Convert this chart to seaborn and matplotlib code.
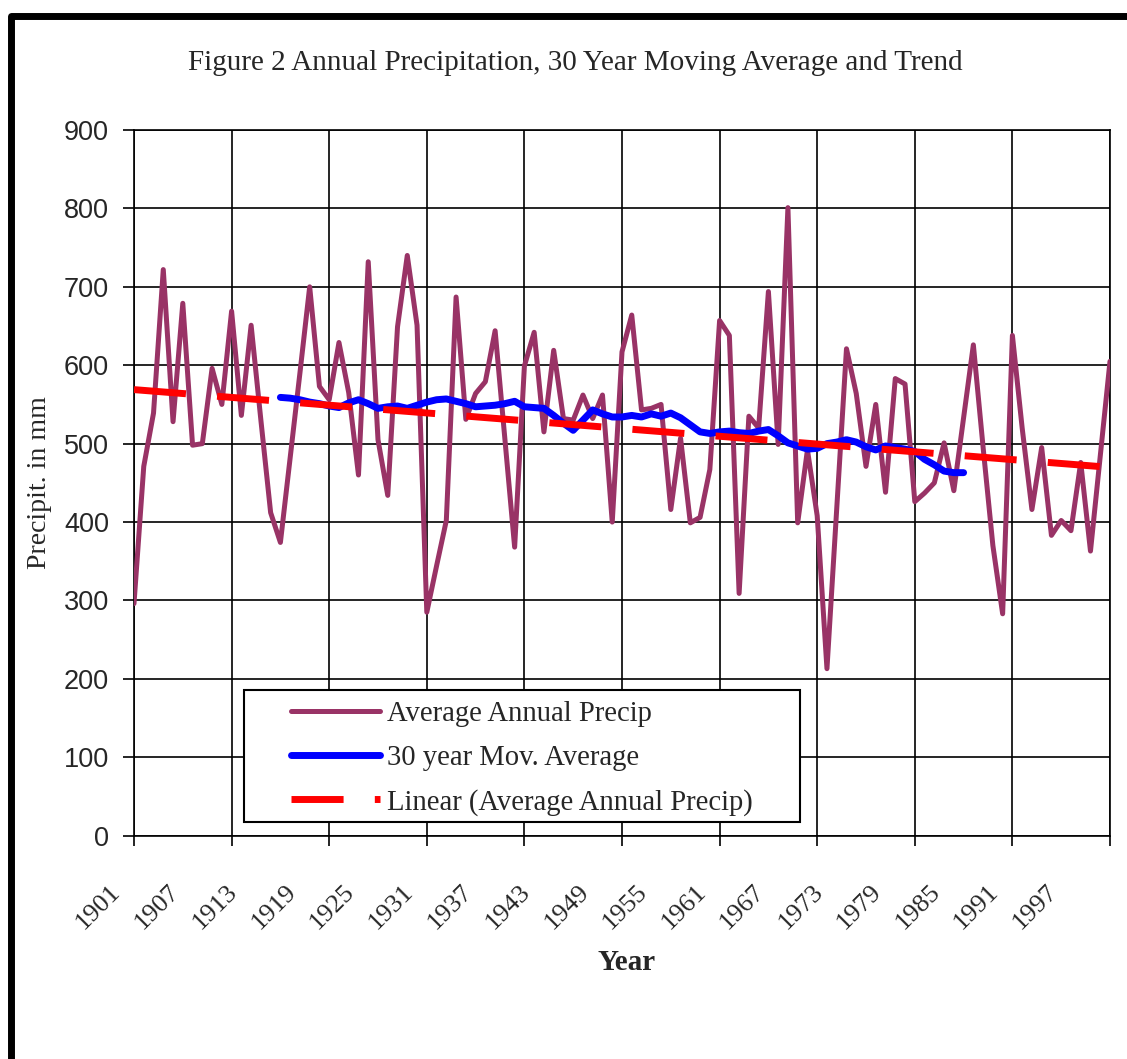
import numpy as np
import pandas as pd

import matplotlib
matplotlib.use("Agg")
import matplotlib.pyplot as plt
import seaborn as sns
from matplotlib.patches import Rectangle
from matplotlib.ticker import FixedLocator, FixedFormatter, NullFormatter
from matplotlib.transforms import ScaledTranslation

# ---- data ------------------------------------------------------------------
YEARS = list(range(1901, 2002))
PRECIP = [
    296, 471, 539, 722, 528, 679, 498, 500, 596, 550,   # 1901-1910
    669, 536, 651, 530, 412, 374, 482, 590, 700, 573,   # 1911-1920
    556, 629, 565, 460, 732, 505, 434, 649, 740, 651,   # 1921-1930
    285, 344, 402, 687, 531, 564, 579, 644, 506, 368,   # 1931-1940
    599, 642, 515, 619, 532, 530, 562, 532, 562, 400,   # 1941-1950
    617, 664, 543, 545, 550, 416, 507, 399, 406, 467,   # 1951-1960
    657, 638, 309, 535, 520, 694, 499, 801, 399, 492,   # 1961-1970
    408, 213, 417, 621, 564, 471, 550, 438, 583, 576,   # 1971-1980
    426, 437, 450, 501, 440, 533, 626, 495, 370, 283,   # 1981-1990
    638, 520, 416, 495, 383, 402, 389, 476, 363, 484,   # 1991-2000
    605,                                                # 2001
]

MA_YEARS = list(range(1916, 1987))
MA_VALUES = [
    559, 558, 556, 553, 551, 548, 546, 552, 556, 551,   # 1916-1925
    545, 547, 548, 545, 549, 553, 556, 557, 554, 551,   # 1926-1935
    547, 548, 549, 551, 554, 547, 546, 545, 536, 526,   # 1936-1945
    517, 530, 543, 538, 534, 534, 536, 534, 538, 535,   # 1946-1955
    539, 533, 524, 515, 513, 515, 516, 514, 513, 516,   # 1956-1965
    518, 510, 501, 497, 493, 494, 500, 502, 505, 502,   # 1966-1975
    496, 492, 497, 495, 493, 490, 480, 473, 465, 463,   # 1976-1985
    463,                                                # 1986
]

GRID_YEARS = list(range(1901, 2002, 10))
LABEL_YEARS = list(range(1901, 2001, 6))
Y_TICKS = list(range(0, 901, 100))

TITLE = "Figure 2 Annual Precipitation, 30 Year Moving Average and Trend"

# ---- figure -----------------------------------------------------------------
sns.set_style("white")
plt.rcParams["font.family"] = ["Liberation Serif", "DejaVu Serif"]

W, H = 1127, 1059
fig = plt.figure(figsize=(W / 100, H / 100), dpi=100)
ax = fig.add_axes([134 / W, 1 - 835.7 / H, 976 / W, 705.7 / H])

df = pd.DataFrame({"year": YEARS, "precip": PRECIP})
ma = pd.DataFrame({"year": MA_YEARS, "ma": MA_VALUES})

sns.lineplot(data=df, x="year", y="precip", ax=ax, color="#993366", lw=3.6,
             label="Average Annual Precip", zorder=3)
sns.lineplot(data=ma, x="year", y="ma", ax=ax, color="#0000ff", lw=5,
             label="30 year Mov. Average", zorder=4, solid_capstyle="round")
sns.regplot(data=df, x="year", y="precip", ax=ax, scatter=False, ci=None,
            truncate=True, label="Linear (Average Annual Precip)",
            line_kws=dict(color="#ff0000", lw=5, dashes=(7.5, 4.5), zorder=5))

ax.set_xlim(1901, 2001)
ax.set_ylim(0, 900)
ax.set_xlabel("")
ax.set_ylabel("")

# 10-year ticks carry the grid, 6-year ticks carry the labels
ax.xaxis.remove_overlapping_locs = False
ax.xaxis.set_major_locator(FixedLocator(GRID_YEARS))
ax.xaxis.set_major_formatter(NullFormatter())
ax.xaxis.set_minor_locator(FixedLocator(LABEL_YEARS))
ax.xaxis.set_minor_formatter(FixedFormatter([str(y) for y in LABEL_YEARS]))
ax.tick_params(axis="x", which="major", length=7.5, width=1.2, color="black",
               direction="out", bottom=True)
ax.tick_params(axis="x", which="minor", length=0, pad=38, labelsize=19,
               bottom=True)
shift = ScaledTranslation(-0.17, 0, fig.dpi_scale_trans)
for lab in ax.get_xticklabels(minor=True):
    lab.set_rotation(45)
    lab.set_ha("right")
    lab.set_va("center")
    lab.set_rotation_mode("anchor")
    lab.set_transform(lab.get_transform() + shift)

ax.set_yticks(Y_TICKS)
ax.tick_params(axis="y", length=8, width=1.2, color="black", direction="out",
               pad=10, labelsize=19.5, left=True)
for lab in ax.get_yticklabels():
    lab.set_fontfamily("Liberation Sans")

ax.set_axisbelow(True)
ax.grid(True, which="major", color="black", lw=1.2)
for sp in ax.spines.values():
    sp.set_color("black")
    sp.set_linewidth(1.2)

# ---- legend with a wide box -------------------------------------------------
handles, labels = ax.get_legend_handles_labels()
leg = ax.legend(handles, labels, loc="upper left", bbox_to_anchor=(0.1609, 0.1905),
                frameon=False, borderpad=0, borderaxespad=0, handlelength=3.1,
                handletextpad=0.25, labelspacing=0.62, fontsize=20.6)
leg.set_zorder(10)
ax.add_patch(Rectangle((0.1127, 0.0194), 0.5697, 0.1871, transform=ax.transAxes,
                       facecolor="white", edgecolor="black", lw=1.5, zorder=8,
                       clip_on=False))

# ---- texts ------------------------------------------------------------------
fig.text(575 / W, 1 - 63 / H, TITLE, ha="center", va="center", fontsize=21)
fig.text(40 / W, 1 - 483 / H, "Precipit. in mm", rotation=90, ha="center",
         va="center", fontsize=20)
fig.text(627 / W, 1 - 962 / H, "Year", ha="center", va="center", fontsize=21,
         fontweight="bold")

# chart-area border, cut off at the right and bottom edges
fig.add_artist(Rectangle((11.5 / W, -0.05), 1.2, 1 - 15.5 / H + 0.05,
                         transform=fig.transFigure, fill=False, lw=5,
                         edgecolor="black", joinstyle="round"))

fig.savefig("out.png", dpi=100)
